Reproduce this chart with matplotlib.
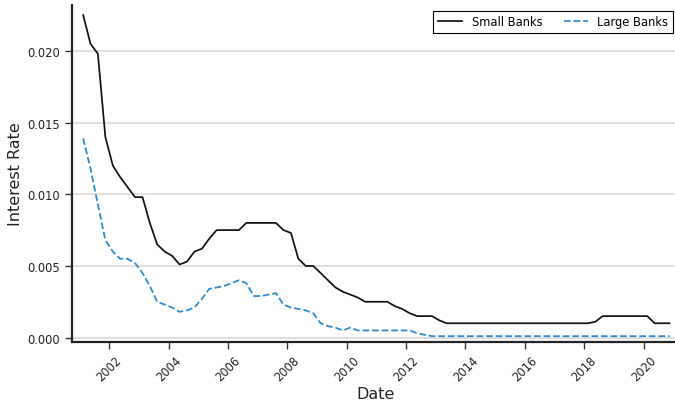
import numpy as np
import pandas as pd
import matplotlib
matplotlib.use('Agg')
import matplotlib.pyplot as plt
import matplotlib.dates as mdates

# quarterly observations, 2001Q1 .. 2020Q4 (mid-quarter dates)
dates = pd.date_range('2001-01-01', periods=80, freq='QS') + pd.Timedelta(days=45)

small_banks = [
    0.0225, 0.0205, 0.0198, 0.0140, 0.0120, 0.0112, 0.0105, 0.0098,
    0.0098, 0.0080, 0.0065, 0.0060, 0.0057, 0.0051, 0.0053, 0.0060,
    0.0062, 0.0069, 0.0075, 0.0075, 0.0075, 0.0075, 0.0080, 0.0080,
    0.0080, 0.0080, 0.0080, 0.0075, 0.0073, 0.0055, 0.0050, 0.0050,
    0.0045, 0.0040, 0.0035, 0.0032, 0.0030, 0.0028, 0.0025, 0.0025,
    0.0025, 0.0025, 0.0022, 0.0020, 0.0017, 0.0015, 0.0015, 0.0015,
    0.0012, 0.0010, 0.0010, 0.0010, 0.0010, 0.0010, 0.0010, 0.0010,
    0.0010, 0.0010, 0.0010, 0.0010, 0.0010, 0.0010, 0.0010, 0.0010,
    0.0010, 0.0010, 0.0010, 0.0010, 0.0010, 0.0011, 0.0015, 0.0015,
    0.0015, 0.0015, 0.0015, 0.0015, 0.0015, 0.0010, 0.0010, 0.0010,
]

large_banks = [
    0.0139, 0.0118, 0.0093, 0.0068, 0.0060, 0.0055, 0.0055, 0.0052,
    0.0045, 0.0036, 0.0025, 0.0023, 0.0021, 0.0018, 0.0019, 0.0021,
    0.0027, 0.0034, 0.0035, 0.0036, 0.0038, 0.0040, 0.0038, 0.0029,
    0.0029, 0.0030, 0.0031, 0.0023, 0.0021, 0.0020, 0.0019, 0.0017,
    0.0010, 0.0008, 0.0007, 0.0005, 0.0007, 0.0005, 0.0005, 0.0005,
    0.0005, 0.0005, 0.0005, 0.0005, 0.0005, 0.0003, 0.0002, 0.0001,
    0.0001, 0.0001, 0.0001, 0.0001, 0.0001, 0.0001, 0.0001, 0.0001,
    0.0001, 0.0001, 0.0001, 0.0001, 0.0001, 0.0001, 0.0001, 0.0001,
    0.0001, 0.0001, 0.0001, 0.0001, 0.0001, 0.0001, 0.0001, 0.0001,
    0.0001, 0.0001, 0.0001, 0.0001, 0.0001, 0.0001, 0.0001, 0.0001,
]


def main():
    fig = plt.figure(figsize=(6.75, 4.02), dpi=100)
    # the axes run slightly past the right edge of the canvas
    ax = fig.add_axes([0.1067, 0.147, 0.899, 0.838])

    ax.plot(dates, small_banks, color='#111111', lw=1.25, label='Small Banks')
    ax.plot(dates, large_banks, color='#2f8ccf', lw=1.3, ls='--',
            label='Large Banks')

    ax.set_xlim(pd.Timestamp('2000-10-01'), pd.Timestamp('2021-03-10'))
    ax.set_ylim(-0.0003, 0.0232)
    ax.set_yticks([0.0, 0.005, 0.010, 0.015, 0.020])
    ax.yaxis.set_major_formatter(plt.FormatStrFormatter('%.3f'))
    ax.xaxis.set_major_locator(mdates.YearLocator(2))
    ax.xaxis.set_major_formatter(mdates.DateFormatter('%Y'))

    ax.grid(axis='y', color='#dddddd', lw=1.3)
    ax.set_axisbelow(True)
    for side in ('top', 'right'):
        ax.spines[side].set_visible(False)
    for side in ('left', 'bottom'):
        ax.spines[side].set_linewidth(1.6)
        ax.spines[side].set_color('#222222')

    ax.tick_params(axis='both', labelsize=8.3, length=5, width=1,
                   color='#333333', labelcolor='#222222')
    plt.setp(ax.get_xticklabels(), rotation=45, ha='center')

    ax.set_xlabel('Date', fontsize=11.5, color='#222222', labelpad=1.5)
    ax.set_ylabel('Interest Rate', fontsize=11.5, color='#222222', labelpad=3)

    leg = ax.legend(loc='upper right', ncol=2, fontsize=8.3, fancybox=False,
                    edgecolor='black', framealpha=1, borderaxespad=0.5,
                    handlelength=2.1, columnspacing=1.9)
    leg.get_frame().set_linewidth(0.8)

    fig.savefig('out.png', dpi=100)


if __name__ == '__main__':
    main()
